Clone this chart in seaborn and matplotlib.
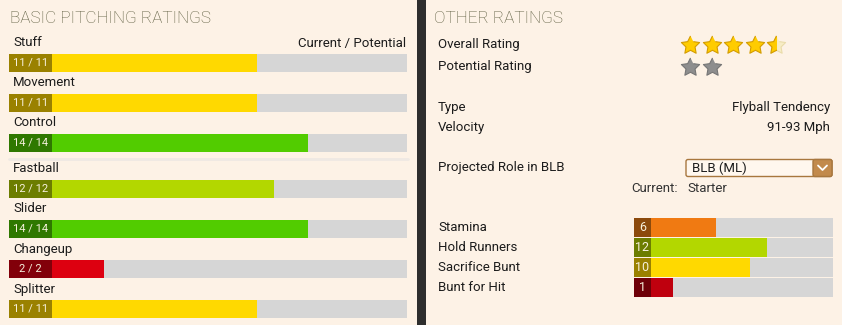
import numpy as np
import pandas as pd
import matplotlib
matplotlib.use("Agg")
import matplotlib.pyplot as plt
from matplotlib.patches import Rectangle, FancyBboxPatch
from matplotlib.transforms import blended_transform_factory
import seaborn as sns

# ---- data ----
pitch_top = ["Stuff", "Movement", "Control"]
pitch_top_cur = [11, 11, 14]
pitch_top_pot = [11, 11, 14]
pitch_bot = ["Fastball", "Slider", "Changeup", "Splitter"]
pitch_bot_cur = [12, 14, 2, 11]
pitch_bot_pot = [12, 14, 2, 11]
other_names = ["Stamina", "Hold Runners", "Sacrifice Bunt", "Bunt for Hit"]
other_vals = [6, 12, 10, 1]
overall_stars = 4.5
potential_stars = 2.0
info_labels = ["Type", "Velocity"]
info_values = ["Flyball Tendency", "91-93 Mph"]
role_choice = "BLB (ML)"
role_current = "Starter"

# ---- style ----
W, H = 842, 325
CREAM = "#fdf2e6"
DARK = "#2e2e2e"
GRAY = "#d6d6d6"
TITLE_C = "#5c5c3e"
TXT = "#1c1c1c"
OFFSET = 3.59      # bar units hidden under the value box
SCALE_MAX = 20

sns.set_theme(style="white")
plt.rcParams["font.family"] = ["Roboto", "DejaVu Sans"]


def colors_for(v):
    if v <= 1:
        return "#bf000e", "#6e0008"
    if v <= 3:
        return "#dd0010", "#82000a"
    if v <= 7:
        return "#f07a12", "#8c4a0c"
    if v <= 11:
        return "#ffd900", "#9a8100"
    if v <= 12:
        return "#b3d700", "#6c7d00"
    return "#52cc00", "#2f7800"


# fat five-point star marker
ang = np.pi / 2 + np.arange(10) * np.pi / 5
rad = np.where(np.arange(10) % 2 == 0, 1.0, 0.5)
STAR = np.column_stack([rad * np.cos(ang), rad * np.sin(ang)])

fig = plt.figure(figsize=(W / 100, H / 100), dpi=100)
fig.patch.set_facecolor(DARK)

bg = fig.add_axes([0, 0, 1, 1])
bg.set_xlim(0, W)
bg.set_ylim(H, 0)
bg.axis("off")
bg.add_patch(Rectangle((0, 0), 417, H, facecolor=CREAM, edgecolor="none"))
bg.add_patch(Rectangle((426, 0), W - 426, H, facecolor=CREAM, edgecolor="none"))
bg.plot([9, 408], [159, 159], color="#efe9e3", lw=2)


def pix_axes(x0, y0, x1, y1):
    return fig.add_axes([x0 / W, 1 - y1 / H, (x1 - x0) / W, (y1 - y0) / H])


def draw_bars(ax, names, vals, pots, bar_w, box_units, fmt, fs):
    n = len(names)
    df = pd.DataFrame({"name": names,
                       "full": [SCALE_MAX + OFFSET - 0.2] * n,
                       "val": [v + OFFSET for v in vals],
                       "box": [box_units] * n})
    cols = [colors_for(v) for v in vals]
    sns.barplot(data=df, x="full", y="name", orient="h", color=GRAY,
                width=bar_w, ax=ax, saturation=1, edgecolor="none")
    sns.barplot(data=df, x="val", y="name", hue="name", orient="h",
                palette=[c[0] for c in cols], width=bar_w, ax=ax,
                saturation=1, legend=False, edgecolor="none")
    sns.barplot(data=df, x="box", y="name", hue="name", orient="h",
                palette=[c[1] for c in cols], width=bar_w, ax=ax,
                saturation=1, legend=False, edgecolor="none")
    for i, (v, p) in enumerate(zip(vals, pots)):
        ax.text(box_units / 2, i, fmt(v, p), ha="center", va="center",
                color="#f6f0dc", fontsize=fs)
    ax.set_xlim(0, SCALE_MAX + OFFSET - 0.2)
    ax.axis("off")


# left panel
unit_l = 398 / (SCALE_MAX + OFFSET - 0.2)
ax_top = pix_axes(9, 63 - 0.8 * 40, 407, 143 + 0.5 * 40)
ax_bot = pix_axes(9, 189 - 0.8 * 40, 407, 309 + 0.5 * 40)
for ax, names, cur, pot in [(ax_top, pitch_top, pitch_top_cur, pitch_top_pot),
                            (ax_bot, pitch_bot, pitch_bot_cur, pitch_bot_pot)]:
    draw_bars(ax, names, cur, pot, 0.46, 43 / unit_l,
              lambda v, p: f"{v} / {p}", 8)
    ax.set_ylim(len(names) - 0.5, -0.8)
    tr = blended_transform_factory(bg.transData, ax.transData)
    for i, nm in enumerate(names):
        ax.text(13, i - 0.5, nm, transform=tr, ha="left", va="center",
                color=TXT, fontsize=9.5)
tr = blended_transform_factory(bg.transData, ax_top.transData)
ax_top.text(406, -0.5, "Current / Potential", transform=tr, ha="right",
            va="center", color=TXT, fontsize=9.5)

# right panel bars
unit_r = 199 / (SCALE_MAX + OFFSET - 0.2)
ax_r = pix_axes(634, 217.3, 833, 297.3)
draw_bars(ax_r, other_names, other_vals, other_vals, 0.93, 17 / unit_r,
          lambda v, p: f"{v}", 9)
ax_r.set_ylim(3.5, -0.5)
tr = blended_transform_factory(bg.transData, ax_r.transData)
for i, nm in enumerate(other_names):
    ax_r.text(438, i, nm, transform=tr, ha="left", va="center",
              color=TXT, fontsize=9.5)

# titles and static texts
bg.text(10, 18.5, "BASIC PITCHING RATINGS", ha="left", va="center",
        color=TITLE_C, fontsize=12.3, fontweight="light")
bg.text(434, 18.5, "OTHER RATINGS", ha="left", va="center",
        color=TITLE_C, fontsize=12.3, fontweight="light")
bg.text(438, 44.5, "Overall Rating", va="center", color=TXT, fontsize=9.5)
bg.text(438, 66.5, "Potential Rating", va="center", color=TXT, fontsize=9.5)
for i, (lab, val) in enumerate(zip(info_labels, info_values)):
    bg.text(438, 107 + 20 * i, lab, va="center", color=TXT, fontsize=9.5)
    bg.text(830, 107 + 20 * i, val, va="center", ha="right", color=TXT,
            fontsize=9.5)
bg.text(438, 167, "Projected Role in BLB", va="center", color=TXT, fontsize=9.5)
bg.add_patch(FancyBboxPatch((686, 159.5), 146, 17, boxstyle="round,pad=0,rounding_size=2",
                            facecolor="#fff7ee", edgecolor="#a8773e", lw=1))
bg.add_patch(FancyBboxPatch((813, 159.5), 19, 17, boxstyle="round,pad=0,rounding_size=2",
                            facecolor="#c28a4c", edgecolor="#a8773e", lw=1))
bg.plot([818, 822.5, 827], [165.5, 170, 165.5], color="white", lw=1.3)
bg.text(692, 168, role_choice, va="center", color=TXT, fontsize=9.5)
bg.text(678, 188, "Current:", va="center", ha="right", color="#333333", fontsize=9.5)
bg.text(687, 188, role_current, va="center", color="#333333", fontsize=9.5)

# stars
ax_s = pix_axes(679.25, 34, 786.75, 78)
ax_s.set_xlim(-0.5, 4.5)
ax_s.set_ylim(1.5, -0.5)
ax_s.axis("off")
ax_s.patch.set_alpha(0)
SS = 190
n_full = int(np.floor(overall_stars))
ax_s.scatter(np.arange(n_full), np.zeros(n_full), marker=STAR, s=SS,
             c="#ffcc00", edgecolors="#d49c00", linewidths=0.8)
if overall_stars - n_full > 0:
    ax_s.scatter([n_full], [0], marker=STAR, s=SS, c="#f7edc6",
                 edgecolors="#eadcaa", linewidths=0.8)
    half = ax_s.scatter([n_full], [0], marker=STAR, s=SS, c="#ffcc00",
                        edgecolors="#d49c00", linewidths=0.8)
    clip = Rectangle((n_full - 0.5, -0.5), 0.5, 1, transform=ax_s.transData)
    half.set_clip_path(clip)
n_pot = int(potential_stars)
ax_s.scatter(np.arange(n_pot), np.ones(n_pot), marker=STAR, s=SS,
             c="#8e8e8e", edgecolors="#767676", linewidths=0.8)

fig.savefig("out.png", dpi=100, facecolor=DARK)
